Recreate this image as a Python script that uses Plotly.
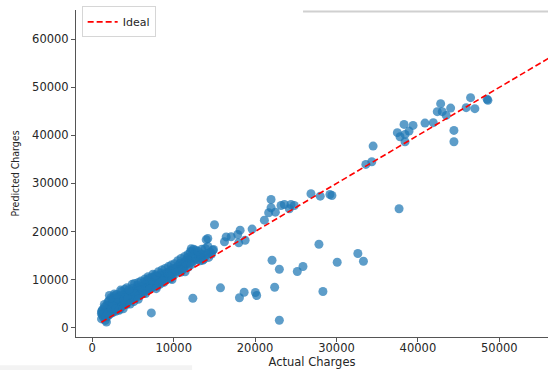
import plotly.graph_objects as go

# Test-set charges (actual) and the model's predictions for them
actual = [
    1121, 1135, 1150, 1250, 1300, 1390, 1450, 1520, 1600, 1630, 1705, 1740, 1800, 1830, 1880, 1910, 1980,
    2020, 2100, 2150, 2200, 2250, 2320, 2400, 2480, 2520, 2600, 2680, 2720, 2800, 2880, 2950,
    3050, 3100, 3180, 3250, 3330, 3400, 3480, 3550, 3620, 3700, 3780, 3850, 3950,
    4030, 4100, 4200, 4300, 4350, 4450, 4550, 4620, 4700, 4800, 4880, 4950,
    5050, 5150, 5250, 5350, 5420, 5500, 5600, 5700, 5800, 5900, 5970,
    6050, 6150, 6250, 6350, 6420, 6500, 6600, 6700, 6800, 6900, 6950,
    7050, 7150, 7200, 7255, 7300, 7400, 7500, 7600, 7700, 7800, 7900, 7950,
    8050, 8150, 8250, 8300, 8400, 8500, 8600, 8700, 8800, 8900,
    9050, 9150, 9300, 9400, 9500, 9650, 9750, 9850, 9950,
    10050, 10200, 10350, 10450, 10600, 10700, 10850, 10950,
    11050, 11200, 11300, 11450, 11550, 11650, 11800, 11900,
    12050, 12157, 12250, 12300, 12353, 12400, 12500, 12650, 12800, 12950,
    13100, 13250, 13400, 13542, 13578, 13700, 13873, 13950, 14100, 14300, 14500, 14804,
    1200, 1350, 1480, 1680, 1950, 2050, 2350, 2550, 2750, 2900, 3150, 3300, 3450, 3680, 3900,
    4150, 4400, 4650, 4750, 5100, 5300, 5550, 5750, 6100, 6300, 6550, 6750, 7100, 7350, 7650,
    8200, 8450, 8650, 9200, 9600, 9900, 10300, 10800, 11100, 11500, 11700, 12150, 12700, 13300,
    2300, 2700, 3000, 3600, 4000, 4250, 4500, 4900, 5200, 5650, 6000, 6450, 6850, 7450, 7750,
    8100, 8550, 8950, 9350, 9700, 10100, 10500, 10900, 11350, 11750, 12050, 12450, 13000, 13450,
    14200, 14650, 3800, 5650, 7850, 9800, 11400,
    13995, 14190, 14890, 15012, 15748, 16238, 16446, 17059, 17868, 17990, 18076, 18162, 18652, 18775,
    19632, 20037, 20196, 21140, 21667, 21961, 21961, 22083, 22402, 22488, 22978, 22978, 23186, 23590,
    24203, 24408, 24816, 25184, 25882, 26863, 27843, 28002, 28333, 29191, 29436, 30086, 32623, 33309,
    33603, 34338, 34497, 37475, 37684, 37806, 38297, 38419, 38419, 38910, 39400, 40870, 41887,
    42377, 42794, 42990, 43480, 44020, 44424, 44424, 45931, 46470, 46998, 48505, 48600,
]
predicted = [
    2900, 1800, 3300, 2500, 3800, 2100, 3000, 4300, 1500, 2700, 3600, 1150, 4700, 2300, 3200, 5300, 4000,
    2600, 6700, 3400, 4600, 2900, 5100, 3800, 6000, 3100, 4300, 5500, 3600, 4800, 3400, 6200,
    4100, 5200, 3700, 6500, 4500, 5700, 7800, 4200, 5000, 6100, 4700, 5500, 7000,
    5200, 6300, 4800, 5900, 7400, 5400, 6600, 6000, 7100, 5700, 6800, 8200,
    6200, 7300, 6000, 8000, 6900, 7600, 6500, 8400, 7200, 6900, 8100,
    7400, 8600, 7100, 8200, 9000, 7800, 8500, 7600, 9300, 8300, 10200,
    8700, 9600, 8100, 3050, 10400, 9000, 8500, 10000, 9300, 10700, 9100, 8600,
    10100, 9500, 10600, 9000, 10900, 9800, 10300, 11000, 9400, 10500,
    11200, 10000, 10800, 11600, 10400, 11000, 12000, 10800, 11500,
    12100, 11200, 12500, 11700, 13000, 12200, 11500, 12800,
    13200, 12400, 13700, 12900, 14000, 13300, 12600, 14200,
    13500, 16400, 15900, 14700, 6100, 13800, 15200, 14300, 15500, 14100,
    14900, 13900, 14500, 14000, 15270, 14200, 16458, 15000, 15400, 14600, 15700, 16104,
    3500, 2800, 4800, 2200, 3000, 5600, 4100, 5000, 6600, 3900, 6000, 3600, 6800, 4600, 5900,
    7000, 6200, 4900, 7600, 5400, 7000, 8800, 6600, 8000, 9400, 7100, 9800, 8100, 9800, 10600,
    9200, 11300, 9700, 11500, 10200, 12300, 11900, 13400, 12000, 13500, 14600, 13100, 16100, 15300,
    6200, 7000, 6900, 7500, 8000, 8300, 7900, 9000, 9200, 9400, 9700, 10100, 10600, 11100, 11000,
    11600, 12000, 12300, 12700, 13000, 13300, 13900, 14400, 14800, 15200, 15800, 16300, 15900, 16300,
    16900, 15300, 3900, 5900, 8100, 10000, 11600,
    18300, 18542, 16250, 21400, 8270, 17854, 18875, 18896, 19375, 17646, 6200, 20271, 7354, 18188,
    20500, 7292, 6667, 22354, 23896, 24938, 26667, 14021, 8396, 24021, 12146, 1521, 25417, 25625,
    24729, 25625, 25417, 11667, 12708, 27854, 17354, 27354, 7500, 27708, 27500, 13604, 15417, 13813,
    33958, 34521, 37771, 40563, 24729, 39729, 42292, 40208, 38688, 40896, 42083, 42563, 42646,
    44938, 46604, 44938, 44167, 45688, 41042, 38688, 45771, 47854, 45563, 47500, 47300,
]

# Endpoints of the y = x reference line (range of the actual charges)
ideal_line = [1121.87, 63770.43]

x_ticks = [0, 10000, 20000, 30000, 40000, 50000]
y_ticks = [0, 10000, 20000, 30000, 40000, 50000, 60000]

FONT = "DejaVu Sans"
INK = "#262626"
SPINE = "#555555"

fig = go.Figure()

fig.add_trace(go.Scatter(
    x=actual, y=predicted, mode="markers", showlegend=False,
    marker=dict(color="#1f77b4", size=9, opacity=0.72, line=dict(width=0)),
))

fig.add_trace(go.Scatter(
    x=ideal_line, y=ideal_line, mode="lines", name="Ideal",
    line=dict(color="red", width=1.6, dash="6px,3px"),
))

axis_common = dict(
    showgrid=False, zeroline=False, showline=True, linecolor=SPINE, linewidth=1,
    ticks="outside", ticklen=4, tickcolor=SPINE, tickwidth=1,
    tickfont=dict(family=FONT, size=11.5, color=INK),
)

fig.update_xaxes(
    range=[-2000, 55980], tickvals=x_ticks, ticktext=[str(v) for v in x_ticks],
    ticklabelstandoff=-4,
    title=dict(text="Actual Charges", font=dict(family=FONT, size=11.5, color=INK), standoff=3),
    **axis_common,
)
fig.update_yaxes(
    range=[-1960, 66100], tickvals=y_ticks, ticktext=[str(v) for v in y_ticks],
    title=dict(text="Predicted Charges",
               font=dict(family="DejaVu Sans Condensed, DejaVu Sans", size=10.5, color=INK),
               standoff=10),
    **axis_common,
)

fig.update_layout(
    width=548, height=370,
    margin=dict(l=76, r=0, t=10, b=33),
    paper_bgcolor="white", plot_bgcolor="white",
    font=dict(family=FONT, color=INK),
    legend=dict(
        x=0.012, y=1.011, xanchor="left", yanchor="top",
        bgcolor="white", bordercolor="#d6d6d6", borderwidth=1,
        font=dict(family=FONT, size=11, color=INK),
    ),
    shapes=[
        # thin grey rule across the top right
        dict(type="line", xref="paper", yref="paper", x0=0.481, x1=1.0, y0=0.9952, y1=0.9952,
             line=dict(color="#d0d0d0", width=2), layer="above"),
        # pale strip along the lower left edge
        dict(type="rect", xref="paper", yref="paper", x0=-0.161, x1=0.246, y0=-0.1019, y1=-0.0866,
             fillcolor="#f3f3f3", line=dict(width=0), layer="below"),
    ],
)

fig.write_html("out.html")
